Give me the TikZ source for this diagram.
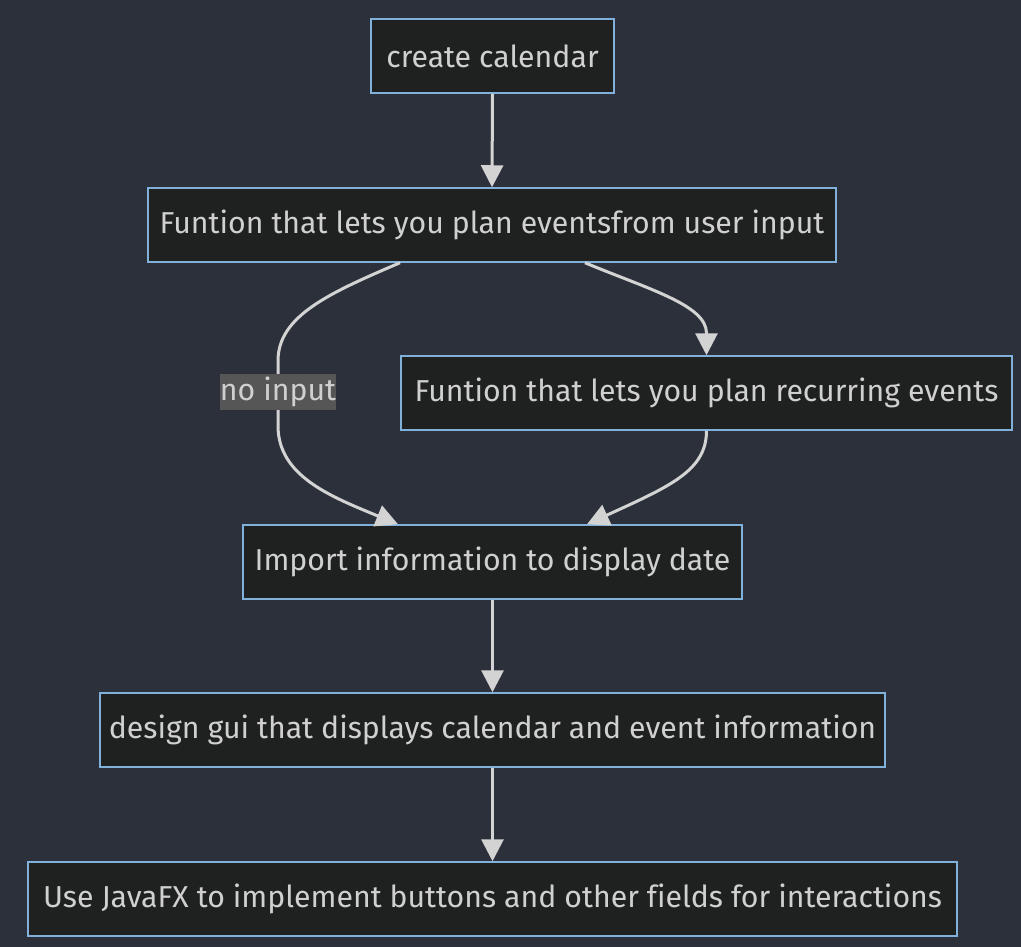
\documentclass[tikz,border=0pt]{standalone}
\usepackage{fontspec}
\setmainfont{Fira Sans}[Ligatures=NoCommon]
\usetikzlibrary{arrows.meta}
\definecolor{bgcol}{HTML}{2B303B}
\definecolor{nodefill}{HTML}{1F2020}
\definecolor{nodeborder}{HTML}{81B1DB}
\definecolor{txt}{HTML}{D0D0D0}
\definecolor{edgecol}{HTML}{D3D3D3}
\definecolor{lblbg}{HTML}{565656}
\newlength\refw
\newcommand\nodefont{\fontsize{\fsz pt}{\fsz pt}\selectfont}
\begin{document}
\settowidth\refw{\fontsize{10pt}{12pt}\selectfont Use JavaFX to implement buttons and other fields for interactions}%
\pgfmathsetmacro\fszloc{10*899/\refw}%
\xdef\fsz{\fszloc}%
\begin{tikzpicture}[x=1pt,y=-1pt,
  box/.style={draw=nodeborder, fill=nodefill, line width=1.5pt, text=txt, font=\nodefont, inner sep=0pt, minimum height=74pt},
  edge/.style={draw=edgecol, line width=3pt, -{Triangle[length=22pt,width=22pt]}},
  lbl/.style={fill=lblbg, text=txt, font=\nodefont, inner sep=0pt, minimum width=112pt, minimum height=36pt}]
\fill[bgcol] (0,0) rectangle (1021,947);
\useasboundingbox (0,0) rectangle (1021,947);
\node[box, minimum width=243pt] (cc) at (492.5,56) {create calendar};
\node[box, minimum width=688pt] (fe) at (492,225) {Funtion that lets you plan eventsfrom user input};
\node[box, minimum width=611pt] (re) at (706.5,393) {Funtion that lets you plan recurring events};
\node[box, minimum width=499pt] (im) at (492.5,562) {Import information to display date};
\node[box, minimum width=785pt] (dg) at (492.5,730) {design gui that displays calendar and event information};
\node[box, minimum width=929pt] (jf) at (492.5,899) {Use JavaFX to implement buttons and other fields for interactions};
\draw[edge] (cc.south) -- (fe.north);
\draw[edge] ([xshift=-92pt]fe.south) .. controls +(-70,30) and +(0,-45) .. ++(-122,98) -- ++(0,65) .. controls +(0,50) and +(-68,-28) .. ([xshift=-94.5pt]im.north);
\draw[edge] ([xshift=93pt]fe.south) .. controls +(65,27) and +(0,-28) .. ([yshift=22pt]re.north) -- (re.north);
\draw[edge] (re.south) .. controls +(0,40) and +(83,-38) .. ([xshift=94.5pt]im.north);
\draw[edge] (im.south) -- (dg.north);
\draw[edge] (dg.south) -- (jf.north);
\node[lbl] (ni) at (278,392) {no input};
\end{tikzpicture}
\end{document}
